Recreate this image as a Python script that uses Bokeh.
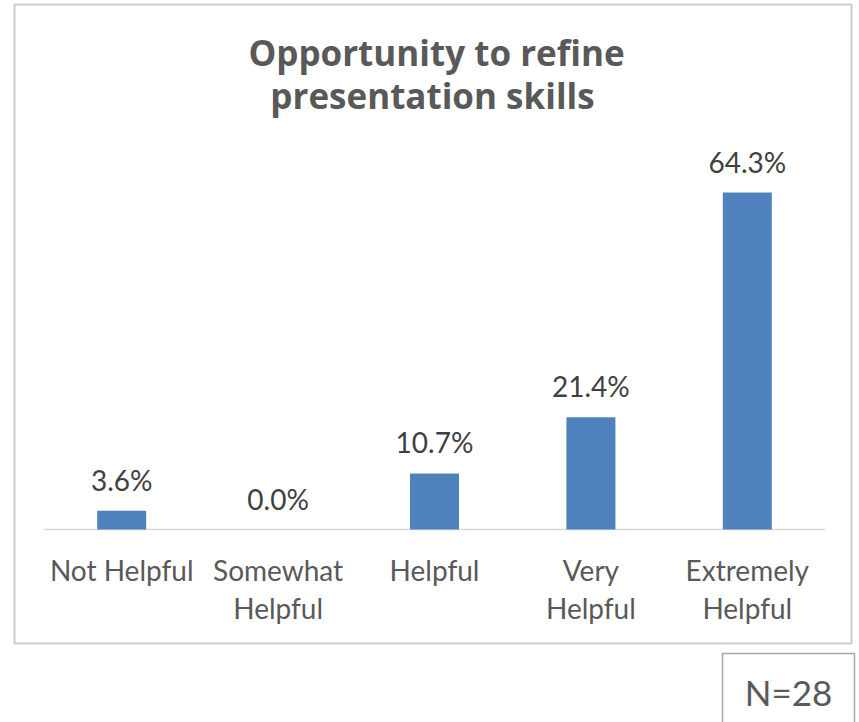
from bokeh.plotting import figure
from bokeh.models import Range1d, ColumnDataSource
from bokeh.core.properties import value
from bokeh.embed import file_html
from bokeh.resources import INLINE

# ---- data ----
categories = ["Not Helpful", "Somewhat Helpful", "Helpful", "Very Helpful", "Extremely Helpful"]
label_line1 = ["Not Helpful", "Somewhat", "Helpful", "Very", "Extremely"]
label_line2 = ["", "Helpful", "", "Helpful", "Helpful"]
percents = [3.6, 0.0, 10.7, 21.4, 64.3]
pct_labels = ["3.6%", "0.0%", "10.7%", "21.4%", "64.3%"]
title_lines = ["Opportunity to refine", "presentation skills"]
n_text = "N=28"

FONT = "Lato"
W, H = 859, 722
FIX = 11  # svg text baseline correction (px)

# page-pixel geometry
PX_PER_CAT = 156.4
PX_PER_PCT = 5.24
CAT_LEFT_PX = 43
BASE_PX = 529

def xd(px):
    return (px - CAT_LEFT_PX) / PX_PER_CAT

def yd(py):
    return (BASE_PX - py) / PX_PER_PCT

p = figure(width=W, height=H, output_backend="svg", toolbar_location=None,
           x_range=Range1d(xd(0), xd(W)), y_range=Range1d(yd(H), yd(0)),
           min_border_left=0, min_border_right=0, min_border_top=0, min_border_bottom=0)
p.axis.visible = False
p.grid.visible = False
p.outline_line_color = None
p.background_fill_color = "white"
p.border_fill_color = "white"

xs = [i + 0.5 for i in range(len(categories))]
src = ColumnDataSource(dict(x=xs, top=percents, lab=pct_labels,
                            l1=label_line1, l2=label_line2))

# chart box
p.quad(left=xd(14), right=xd(851), top=yd(4), bottom=yd(643),
       fill_color=None, line_color="#cccccc", line_width=2)

# baseline
p.segment(x0=0, y0=0, x1=len(categories), y1=0, line_color="#d9d9d9", line_width=1.5)

# bars
p.vbar(x="x", top="top", bottom=0, width=49 / PX_PER_CAT, source=src,
       fill_color="#4F81BD", line_color=None)

# data labels
p.text(x="x", y="top", text="lab", source=src, text_align="center",
       text_baseline="alphabetic", y_offset=-20 - FIX, text_font=value(FONT),
       text_font_size="28px", text_color="#404040")

# category labels
p.text(x="x", y=yd(580 - FIX), text="l1", source=src, text_align="center",
       text_baseline="alphabetic", text_font=value(FONT),
       text_font_size="28px", text_color="#595959")
p.text(x="x", y=yd(618 - FIX), text="l2", source=src, text_align="center",
       text_baseline="alphabetic", text_font=value(FONT),
       text_font_size="28px", text_color="#595959")

# title
p.text(x=[xd(436), xd(432)], y=[yd(63 - FIX), yd(106 - FIX)], text=title_lines,
       text_align="center", text_baseline="alphabetic", text_font=value("Open Sans"),
       text_font_style="bold", text_font_size="35px", text_color="#595959")

# N box
p.quad(left=xd(722), right=xd(854), top=yd(653), bottom=yd(740),
       fill_color="white", line_color="#a6a6a6", line_width=1.5)
p.text(x=[xd(788)], y=[yd(702 - FIX)], text=[n_text], text_align="center",
       text_baseline="alphabetic", text_font=value(FONT),
       text_font_size="35px", text_color="#595959")

open("out.html", "w").write(file_html(p, INLINE))
